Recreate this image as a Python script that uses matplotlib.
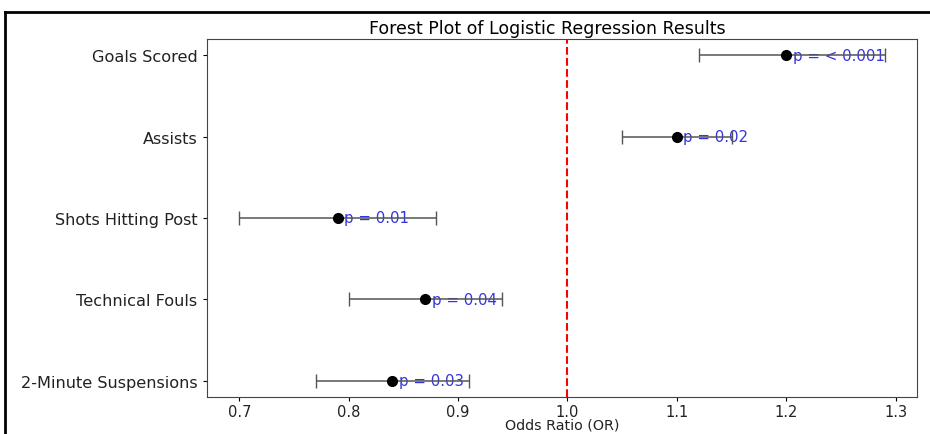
import matplotlib.pyplot as plt
from matplotlib.lines import Line2D

# data
variables = ["Goals Scored", "Assists", "Shots Hitting Post", "Technical Fouls", "2-Minute Suspensions"]
odds_ratios = [1.20, 1.10, 0.79, 0.87, 0.84]
ci_lower = [1.12, 1.05, 0.70, 0.80, 0.77]
ci_upper = [1.29, 1.15, 0.88, 0.94, 0.91]
p_labels = ["< 0.001", "0.02", "0.01", "0.04", "0.03"]

fig = plt.figure(figsize=(9.3, 4.35), dpi=100)
ax = fig.add_axes([207 / 930, 1 - 398 / 435, 710 / 930, 358 / 435])

y_pos = list(range(len(variables)))[::-1]
err_lo = [o - l for o, l in zip(odds_ratios, ci_lower)]
err_hi = [u - o for o, u in zip(odds_ratios, ci_upper)]

# p-value labels first, error bars drawn on top of them
for o, y, p in zip(odds_ratios, y_pos, p_labels):
    ax.text(o + 0.006, y, f"p = {p}", color="#3535e0", fontsize=10.8,
            va="center", ha="left", zorder=2)

ax.errorbar(odds_ratios, y_pos, xerr=[err_lo, err_hi], fmt="o", color="black",
            ecolor="#555555", capsize=5, markersize=7, elinewidth=1.1, zorder=3)

ax.axvline(1.0, color="red", linestyle="--", linewidth=1.5)

ax.set_yticks(y_pos)
ax.set_yticklabels(variables, fontsize=11.6, color="#222222")
ax.tick_params(axis="y", length=3, pad=4)
ax.tick_params(axis="x", labelsize=10.5, length=3, pad=2, labelcolor="#222222")
ax.set_xlabel("Odds Ratio (OR)", fontsize=10.3, color="#222222")
ax.xaxis.set_label_coords(0.5, -0.058)
ax.set_title("Forest Plot of Logistic Regression Results", fontsize=12.5, pad=4, x=0.479)
for s in ax.spines.values():
    s.set_color("#444444")

# screenshot frame around the figure
fig.add_artist(Line2D([5 / 930, 5 / 930], [0, 1 - 13 / 435], color="black", lw=2,
                      transform=fig.transFigure))
fig.add_artist(Line2D([5 / 930, 1], [1 - 13 / 435, 1 - 13 / 435], color="black", lw=2,
                      transform=fig.transFigure))

plt.savefig("out.png", dpi=100)
